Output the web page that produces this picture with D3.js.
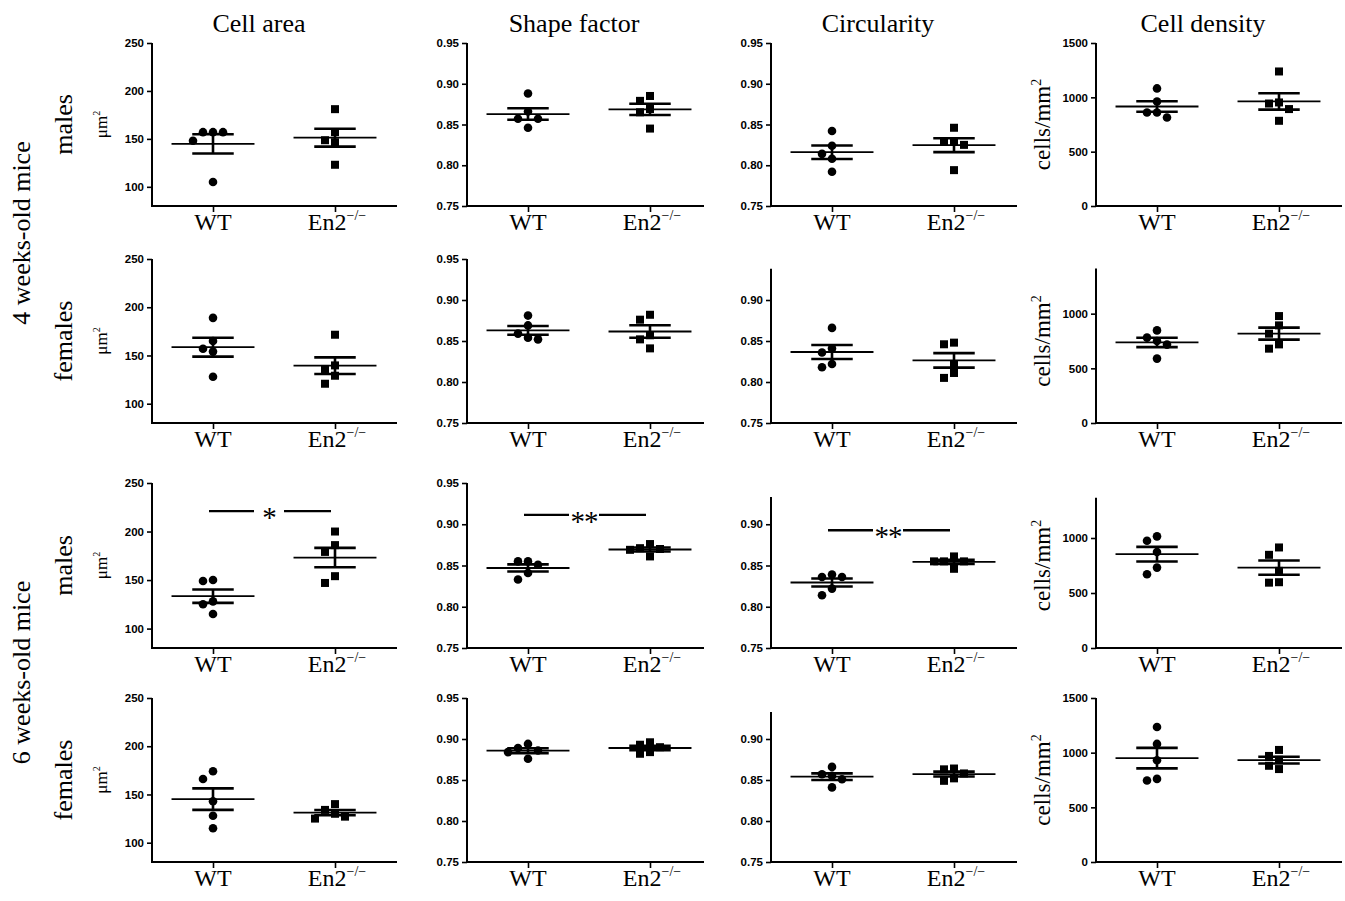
<!DOCTYPE html>
<html><head><meta charset="utf-8">
<script src="https://cdn.jsdelivr.net/npm/d3@7"></script>
<style>body{margin:0;background:#fff}svg{display:block}</style>
</head><body><svg id="c" width="1345" height="901"></svg>
<script>
// ---------- data ----------
const groups = ["WT", "En2"];
const columnTitles = ["Cell area", "Shape factor", "Circularity", "Cell density"];
const rowSexLabels = ["males", "females", "males", "females"];
const ageLabels = ["4 weeks-old mice", "6 weeks-old mice"];

// y-axis definitions per column
const yMinByColumn = [80, 0.75, 0.75, 0];
const yNominalMaxByColumn = [250, 0.95, 0.95, 1500];
// drawn top of each y axis [row][col]
const yAxisTop = [
  [250, 0.95, 0.95, 1500],
  [250, 0.95, 0.938, 1413],
  [250, 0.95, 0.933, 1366],
  [250, 0.95, 0.933, 1500]
];
const cellAreaTicks = [100, 150, 200, 250];
const shapeTicks = [0.75, 0.80, 0.85, 0.90, 0.95];
const circTicksFull = [0.75, 0.80, 0.85, 0.90, 0.95];
const circTicksShort = [0.75, 0.80, 0.85, 0.90];
const densityTicksFull = [0, 500, 1000, 1500];
const densityTicksShort = [0, 500, 1000];

// values per row (4wk males, 4wk females, 6wk males, 6wk females)
const cellAreaWT = [
  [157, 157, 157, 148, 105],
  [189, 165, 157, 154, 128],
  [150, 149, 128, 125, 115],
  [174, 166, 143, 128, 115]
];
const cellAreaEn2 = [
  [181, 157, 148.6, 146.5, 123],
  [171.5, 139.7, 136, 129, 120.7],
  [200, 186, 179, 154, 147],
  [140, 134, 130, 127, 125]
];
const shapeWT = [
  [0.888, 0.866, 0.857, 0.857, 0.846],
  [0.881, 0.869, 0.859, 0.854, 0.852],
  [0.855, 0.855, 0.851, 0.841, 0.833],
  [0.894, 0.889, 0.886, 0.884, 0.876]
];
const shapeEn2 = [
  [0.885, 0.879, 0.869, 0.865, 0.845],
  [0.882, 0.876, 0.857, 0.852, 0.841],
  [0.876, 0.871, 0.870, 0.869, 0.861],
  [0.896, 0.893, 0.890, 0.884, 0.882]
];
const circWT = [
  [0.842, 0.824, 0.814, 0.808, 0.792],
  [0.866, 0.841, 0.836, 0.822, 0.818],
  [0.839, 0.836, 0.836, 0.822, 0.814],
  [0.866, 0.857, 0.855, 0.851, 0.841]
];
const circEn2 = [
  [0.846, 0.829, 0.829, 0.825, 0.794],
  [0.848, 0.846, 0.822, 0.811, 0.805],
  [0.861, 0.855, 0.855, 0.855, 0.846],
  [0.864, 0.863, 0.858, 0.852, 0.849]
];
const densityWT = [
  [1082, 962, 860, 860, 814],
  [847, 781, 750, 717, 589],
  [1015, 975, 872, 731, 671],
  [1235, 1080, 930, 760, 745]
];
const densityEn2 = [
  [1238, 953, 943, 892, 784],
  [978, 893, 817, 719, 680],
  [914, 847, 701, 598, 594],
  [1025, 970, 935, 880, 850]
];

// significance marks
const sigRow = [2, 2, 2];
const sigCol = [0, 1, 2];
const sigLabel = ["*", "**", "**"];
const sigLevel = [221, 0.9114, 0.8927];

// ---------- layout ----------
const W = 1345, H = 901;
const colX = [152, 467, 771, 1096];
const axisLen = [245, 237, 246, 246];
const plotW = 244;
const rowBottom = [206, 423, 648, 862];
const rowTop = [43, 259, 483, 698];
const serif = "'Liberation Serif','Times New Roman',Times,serif";
const sans = "'Liberation Sans',Arial,Helvetica,sans-serif";

const svg = d3.select("#c");
svg.append("rect").attr("width", W).attr("height", H).attr("fill", "#fff");

const wtValues = [cellAreaWT, shapeWT, circWT, densityWT];
const en2Values = [cellAreaEn2, shapeEn2, circEn2, densityEn2];
const tickFormats = [d3.format("d"), d3.format(".2f"), d3.format(".2f"), d3.format("d")];

function ticksFor(r, c) {
  if (c === 0) return cellAreaTicks;
  if (c === 1) return shapeTicks;
  if (c === 2) return yAxisTop[r][c] >= 0.95 ? circTicksFull : circTicksShort;
  return yAxisTop[r][c] >= 1500 ? densityTicksFull : densityTicksShort;
}

// simple column-scatter placement (GraphPad style)
function swarm(values, y, cx, step, thr) {
  const placed = [];
  const order = [0, -1, 1, -2, 2, -3, 3];
  values.forEach(v => {
    const py = y(v);
    for (const k of order) {
      const px = cx + k * step;
      if (placed.every(p => Math.hypot(p.x - px, p.y - py) >= thr)) {
        placed.push({x: px, y: py, v});
        break;
      }
    }
  });
  return placed;
}

function mean(a) { return d3.mean(a); }
function sem(a) { return d3.deviation(a) / Math.sqrt(a.length); }

for (let r = 0; r < 4; r++) {
  for (let c = 0; c < 4; c++) {
    const g = svg.append("g").attr("transform", `translate(${colX[c]},0)`);
    const y = d3.scaleLinear()
      .domain([yMinByColumn[c], yNominalMaxByColumn[c]])
      .range([rowBottom[r], rowTop[r]]);
    const x = d3.scalePoint().domain(groups).range([0, plotW]).padding(0.5);

    // y axis
    const ya = g.append("g").call(
      d3.axisLeft(y).tickValues(ticksFor(r, c)).tickSize(5).tickPadding(3).tickFormat(tickFormats[c])
    );
    ya.select(".domain").remove();
    ya.selectAll(".tick line").attr("stroke", "#000").attr("stroke-width", 1.6);
    ya.selectAll(".tick text")
      .attr("font-family", sans).attr("font-weight", "bold").attr("font-size", 11.5)
      .attr("fill", "#000");
    g.append("line")
      .attr("x1", 0).attr("x2", 0)
      .attr("y1", y(yMinByColumn[c]) + 1).attr("y2", y(yAxisTop[r][c]))
      .attr("stroke", "#000").attr("stroke-width", 2);

    // x axis
    const xa = g.append("g").attr("transform", `translate(0,${rowBottom[r]})`)
      .call(d3.axisBottom(x).tickSize(6).tickFormat(""));
    xa.select(".domain").remove();
    xa.selectAll(".tick line").attr("stroke", "#000").attr("stroke-width", 1.6);
    g.append("line")
      .attr("x1", 0).attr("x2", axisLen[c])
      .attr("y1", rowBottom[r]).attr("y2", rowBottom[r])
      .attr("stroke", "#000").attr("stroke-width", 2);

    // x labels
    g.append("text").attr("x", x("WT")).attr("y", rowBottom[r] + 24)
      .attr("text-anchor", "middle").attr("font-family", serif).attr("font-size", 24)
      .attr("fill", "#000").text("WT");
    const en = g.append("text").attr("x", x("En2") + 2).attr("y", rowBottom[r] + 24)
      .attr("text-anchor", "middle").attr("font-family", serif).attr("font-size", 24)
      .attr("fill", "#000");
    en.append("tspan").text("En2");
    en.append("tspan").attr("dy", -10).attr("font-size", 14).text("\u2212/\u2212");

    // data
    const step = x.step();
    [wtValues[c][r], en2Values[c][r]].forEach((vals, gi) => {
      const cx = x(groups[gi]);
      const m = mean(vals), s = sem(vals);
      // mean line
      g.append("line")
        .attr("x1", cx - 0.34 * step).attr("x2", cx + 0.34 * step)
        .attr("y1", y(m)).attr("y2", y(m))
        .attr("stroke", "#000").attr("stroke-width", 1.8);
      // SEM
      g.append("line")
        .attr("x1", cx).attr("x2", cx)
        .attr("y1", y(m - s)).attr("y2", y(m + s))
        .attr("stroke", "#000").attr("stroke-width", 2.6);
      [m - s, m + s].forEach(v => {
        g.append("line")
          .attr("x1", cx - 0.17 * step).attr("x2", cx + 0.17 * step)
          .attr("y1", y(v)).attr("y2", y(v))
          .attr("stroke", "#000").attr("stroke-width", 2.6);
      });
      const pts = swarm(vals, y, cx, 10, 9);
      if (gi === 0) {
        g.selectAll(null).data(pts).join("circle")
          .attr("cx", d => d.x).attr("cy", d => d.y).attr("r", 4.3).attr("fill", "#000");
      } else {
        g.selectAll(null).data(pts).join("rect")
          .attr("x", d => d.x - 4).attr("y", d => d.y - 4)
          .attr("width", 8).attr("height", 8).attr("fill", "#000");
      }
    });

    // significance bar
    sigRow.forEach((sr, i) => {
      if (sr !== r || sigCol[i] !== c) return;
      const ly = y(sigLevel[i]);
      const x0 = x("WT") - 4, x1 = x("En2") - 4;
      const mid = (x0 + x1) / 2 - 1;
      const gap = 15;
      g.append("line").attr("x1", x0).attr("x2", mid - gap).attr("y1", ly).attr("y2", ly)
        .attr("stroke", "#000").attr("stroke-width", 2.4);
      g.append("line").attr("x1", mid + gap).attr("x2", x1).attr("y1", ly).attr("y2", ly)
        .attr("stroke", "#000").attr("stroke-width", 2.4);
      g.append("text").attr("x", mid).attr("y", ly + 16)
        .attr("text-anchor", "middle").attr("font-family", serif).attr("font-size", 29)
        .attr("fill", "#000").style("letter-spacing", "-1px")
        .text(sigLabel[i]);
    });

    // y axis unit label
    const cy = (rowBottom[r] + rowTop[r]) / 2;
    if (c === 0) {
      const t = g.append("text")
        .attr("transform", `translate(-45,${cy}) rotate(-90)`)
        .attr("text-anchor", "middle").attr("font-family", serif).attr("font-size", 17)
        .attr("fill", "#000");
      t.append("tspan").text("\u03bcm");
      t.append("tspan").attr("dy", -7).attr("font-size", 10).text("2");
    }
    if (c === 3) {
      const t = g.append("text")
        .attr("transform", `translate(-46,${cy}) rotate(-90)`)
        .attr("text-anchor", "middle").attr("font-family", serif).attr("font-size", 23)
        .attr("fill", "#000");
      t.append("tspan").text("cells/mm");
      t.append("tspan").attr("dy", -9).attr("font-size", 14).text("2");
    }
  }
}

// column titles
columnTitles.forEach((t, c) => {
  svg.append("text").attr("x", colX[c] + 107).attr("y", 32)
    .attr("text-anchor", "middle").attr("font-family", serif).attr("font-size", 26)
    .attr("fill", "#000").text(t);
});

// row sex labels
rowSexLabels.forEach((t, r) => {
  const cy = (rowBottom[r] + rowTop[r]) / 2;
  svg.append("text").attr("transform", `translate(72,${cy}) rotate(-90)`)
    .attr("text-anchor", "middle").attr("font-family", serif).attr("font-size", 26)
    .attr("fill", "#000").text(t);
});

// age labels
ageLabels.forEach((t, i) => {
  const cy = (rowTop[2 * i] + rowBottom[2 * i + 1]) / 2;
  svg.append("text").attr("transform", `translate(30,${cy}) rotate(-90)`)
    .attr("text-anchor", "middle").attr("font-family", serif).attr("font-size", 26)
    .attr("fill", "#000").text(t);
});
</script>
</body></html>
